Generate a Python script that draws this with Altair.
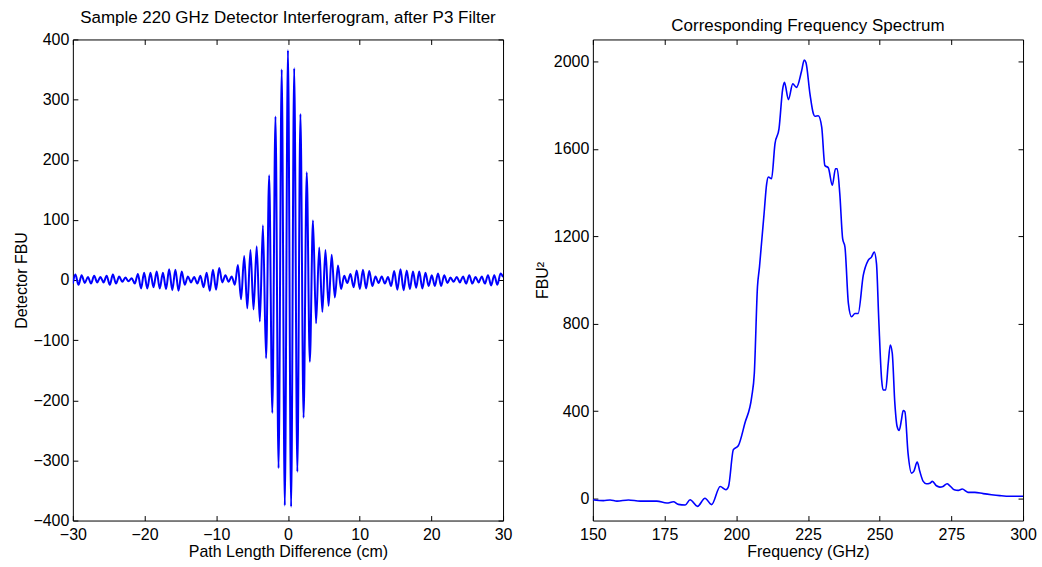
import altair as alt
import pandas as pd

FONT = "Liberation Sans"
BLUE = "#0000FF"

# ---------------- Interferogram (extrema) ----------------
ifg_x_left = [-30.0, -29.65, -29.21, -28.78, -28.34, -27.90, -27.47, -27.03, -26.60, -26.16,
              -25.72, -25.29, -24.85, -24.42, -23.98, -23.54, -23.11, -22.67, -22.24, -21.80,
              -21.36, -20.93, -20.49, -20.06, -19.62, -19.18, -18.75, -18.31, -17.88, -17.44,
              -17.00, -16.57, -16.13, -15.70, -15.26, -14.82, -14.39, -13.95, -13.52, -13.08,
              -12.64, -12.21, -11.77, -11.34, -10.90, -10.46, -10.03, -9.59, -9.16, -8.72,
              -8.28, -7.85, -7.41, -6.98, -6.54, -6.10, -5.67, -5.23, -4.80, -4.36,
              -3.92, -3.49, -3.05, -2.62, -2.18, -1.74, -1.31, -0.87, -0.44, 0.0]
ifg_y_left = [-6, 9, -8, 8, -5, 5, -6, 7, -4, 5,
              -4, 7, -8, 9, -6, 6, -3, 4, -2, 3,
              -6, 10, -14, 12, -14, 12, -12, 14, -14, 12,
              -15, 18, -17, 17, -18, 14, -8, 6, -4, 5,
              -6, 7, -12, 12, -18, 17, -16, 20, -4, 8,
              -3, 6, -8, 25, -32, 40, -47, 50, -49, 56,
              -69, 91, -130, 174, -221, 272, -313, 350, -375, 382]
ifg_x_right = [0.44, 0.87, 1.31, 1.74, 2.18, 2.62, 3.05, 3.49, 3.92, 4.36,
               4.80, 5.23, 5.67, 6.10, 6.54, 6.98, 7.41, 7.85, 8.28, 8.72,
               9.16, 9.59, 10.03, 10.46, 10.90, 11.34, 11.77, 12.21, 12.64, 13.08,
               13.52, 13.95, 14.39, 14.82, 15.26, 15.70, 16.13, 16.57, 17.00, 17.44,
               17.88, 18.31, 18.75, 19.18, 19.62, 20.06, 20.49, 20.93, 21.36, 21.80,
               22.24, 22.67, 23.11, 23.54, 23.98, 24.42, 24.85, 25.29, 25.72, 26.16,
               26.60, 27.03, 27.47, 27.90, 28.34, 28.78, 29.21, 29.65, 30.0]
ifg_y_right = [-377, 352, -319, 276, -229, 179, -136, 99, -72, 54,
               -53, 50, -43, 42, -29, 24, -15, 7, -5, 10,
               -12, 16, -15, 17, -14, 15, -10, 6, -5, 6,
               -6, 5, -10, 15, -16, 18, -17, 16, -15, 14,
               -13, 14, -14, 12, -10, 8, -10, 11, -10, 8,
               -5, 4, -3, 5, -4, 6, -6, 8, -6, 5,
               -4, 6, -6, 8, -9, 8, -8, 11, 5]

# ---------------- Spectrum ----------------
freq = [150, 153.7, 156, 158.4, 162.4, 166.5, 172.3, 175.8, 178.1, 179.8,
        182.2, 183.9, 186.5, 189.1, 191.4, 194.4, 196.4, 197.3, 199, 200.7,
        203, 205.4, 206.3, 207.4, 208.1, 208.9, 209.7, 210.6, 211.2, 212.3,
        213.5, 214.9, 216.2, 216.8, 218.2, 219.7, 221, 222.8, 223.7, 224.3,
        225.7, 226.9, 227.4, 228.6, 229.8, 230.9, 232.1, 233.5, 234.6, 235.2,
        236.1, 237.1, 237.9, 239.1, 240.2, 241.4, 242.5, 244.3, 246, 247.2,
        248.1, 248.9, 249.7, 250.7, 251.2, 252.1, 253, 253.7, 254.4, 255.3,
        256.1, 256.8, 257.6, 258.2, 258.8, 259.9, 261.1, 261.9, 263.1, 264,
        265.2, 266.3, 267.5, 268.4, 269.8, 271, 272.1, 273.5, 274.5, 276,
        277.4, 278.8, 280.8, 283.2, 286.1, 289, 291.9, 295.4, 300]
power = [-5, -9, -6, -11, -6, -11, -11, -20, -14, -26,
         -29, -5, -35, 2, -27, 56, 41, 56, 224, 242,
         345, 467, 573, 969, 1060, 1182, 1303, 1440, 1471, 1463,
         1623, 1691, 1874, 1904, 1825, 1897, 1881, 1957, 2006, 1995,
         1851, 1760, 1749, 1751, 1699, 1524, 1513, 1433, 1509, 1509,
         1395, 1189, 1151, 893, 832, 847, 847, 1022, 1090, 1106,
         1128, 1075, 817, 543, 497, 497, 619, 703, 665, 436,
         330, 312, 360, 403, 398, 208, 117, 125, 167, 125,
         79, 68, 71, 79, 59, 53, 56, 68, 59, 41,
         38, 44, 29, 29, 23, 18, 14, 11, 11]

ifg_xticks = [-30, -20, -10, 0, 10, 20, 30]
ifg_yticks = [-400, -300, -200, -100, 0, 100, 200, 300, 400]
spec_xticks = [150, 175, 200, 225, 250, 275, 300]
spec_yticks = [0, 400, 800, 1200, 1600, 2000]

df_ifg = pd.DataFrame({"x": ifg_x_left + ifg_x_right, "y": ifg_y_left + ifg_y_right})
df_spec = pd.DataFrame({"f": freq, "p": power})

W, H = 431, 482
TICK = 5


def axis(values, title, orient, show_labels=True, label_pad=4, title_pad=3):
    return alt.Axis(
        values=values, orient=orient, offset=-TICK, tickSize=TICK, domain=False,
        grid=False, tickColor="black", tickWidth=1, labelFlush=False, labelOverlap=False,
        labelFont=FONT, labelFontSize=16, labelColor="black", labels=show_labels, format="d",
        titleFont=FONT, titleFontSize=16, titleColor="black", titleFontWeight="normal",
        labelPadding=label_pad, titlePadding=title_pad, title=title,
    )


def panel(df, xf, yf, xdom, ydom, xt, yt, xtitle, ytitle, title, sw):
    xs = alt.Scale(domain=xdom, nice=False, zero=False)
    ys = alt.Scale(domain=ydom, nice=False, zero=False)
    line = alt.Chart(df).mark_line(color=BLUE, strokeWidth=sw, interpolate="monotone", clip=True).encode(
        x=alt.X(f"{xf}:Q", scale=xs, axis=axis(xt, xtitle, "bottom", label_pad=6, title_pad=1)),
        y=alt.Y(f"{yf}:Q", scale=ys, axis=axis(yt, ytitle, "left")),
    )
    ghost = alt.Chart(df).mark_line(opacity=0).encode(
        x=alt.X(f"{xf}:Q", scale=xs, axis=axis(xt, None, "top", False)),
        y=alt.Y(f"{yf}:Q", scale=ys, axis=axis(yt, None, "right", False)),
    )
    return alt.layer(line, ghost).resolve_axis(x="independent", y="independent").properties(
        width=W, height=H,
        title=alt.TitleParams(title, font=FONT, fontSize=17, fontWeight="normal", color="black",
                              offset=0, dy=-4),
    )


left = panel(df_ifg, "x", "y", [-30, 30], [-400, 400], ifg_xticks, ifg_yticks,
             "Path Length Difference (cm)", "Detector FBU",
             "Sample 220 GHz Detector Interferogram, after P3 Filter", 2.0)
right = panel(df_spec, "f", "p", [150, 300], [-100, 2100], spec_xticks, spec_yticks,
              "Frequency (GHz)", "FBU²", "Corresponding Frequency Spectrum", 1.6)

chart = alt.hconcat(left, right, spacing=20).properties(
    padding={"left": 13, "top": 8, "right": 5, "bottom": 5},
    background="white",
).configure_view(stroke="black", strokeWidth=1)

chart.save("out.html", embed_options={"renderer": "svg", "actions": False})
